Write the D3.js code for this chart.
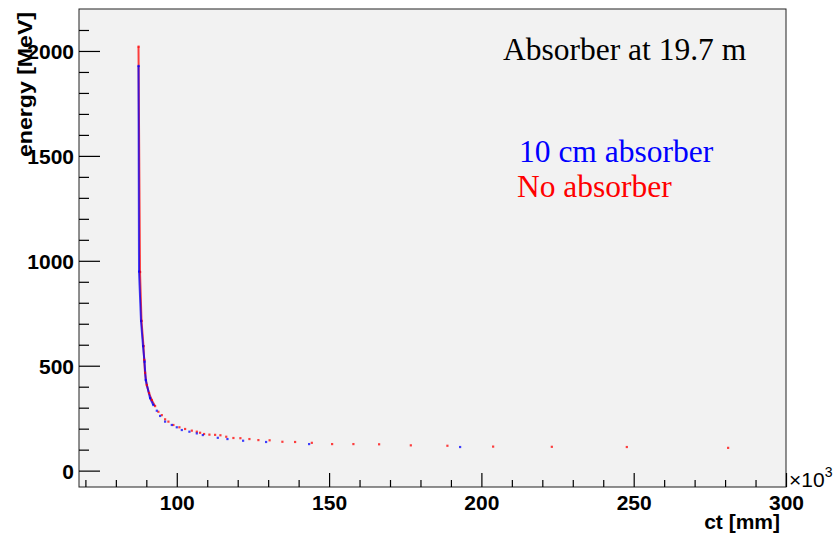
<!DOCTYPE html>
<html>
<head>
<meta charset="utf-8">
<script src="https://cdn.jsdelivr.net/npm/d3@7"></script>
<style>
  body { margin: 0; background: #fff; }
  svg { display: block; }
  .tick text { font-family: "Liberation Sans", Arial, sans-serif; font-weight: bold; font-size: 21px; fill: #000; }
</style>
</head>
<body>
<svg width="838" height="537"></svg>
<script>
// No absorber (red) : ct [x10^3 mm], energy [MeV]
const ctRed = [87.43, 87.93, 88.42, 89.07, 89.30, 89.57, 90.13, 90.88, 91.77, 92.85, 93.93, 95.05,
  96.13, 97.22, 98.86, 100.83, 102.70, 104.90, 106.54, 107.62, 108.94, 110.68, 112.55, 114.29,
  116.20, 118.56, 120.85, 123.81, 126.76, 130.44, 134.64, 138.81, 144.30, 150.96, 157.95,
  166.39, 176.80, 188.81, 203.82, 223.09, 247.71, 280.97];
const eRed = [2021, 947, 714, 594, 528, 467, 408, 370, 337, 308, 281, 265,
  245, 234, 218, 207, 199, 191, 186, 181, 175, 172, 171, 169,
  162, 156, 155, 151, 146, 145, 138, 137, 133, 127, 127,
  126, 121, 119, 115, 114, 113, 109];

// 10 cm absorber (blue)
const ctBlue = [87.43, 87.60, 88.25, 88.91, 89.40, 89.80, 91.21, 92.29, 93.41, 94.49, 96.13,
  98.33, 99.97, 101.62, 104.11, 106.54, 108.51, 113.43, 116.60, 121.74, 129.29, 143.41, 192.98];
const eBlue = [1929, 949, 714, 594, 520, 432, 346, 313, 286, 261, 234,
  218, 207, 194, 186, 178, 170, 157, 151, 143, 137, 127, 113];

const xMajor = [100, 150, 200, 250, 300];
const xMinor = [70, 80, 90, 110, 120, 130, 140, 160, 170, 180, 190, 210, 220, 230, 240, 260, 270, 280, 290];
const yMajor = [0, 500, 1000, 1500, 2000];
const yMinor = [100, 200, 300, 400, 600, 700, 800, 900, 1100, 1200, 1300, 1400, 1600, 1700, 1800, 1900, 2100];

const svg = d3.select('svg');
const L = 79, R = 786, T = 9, B = 487;

const x = d3.scaleLinear().domain([67.9, 300]).range([L, R]);
const y = d3.scaleLinear().domain([-78, 2200]).range([B, T]);

// frame
svg.append('rect')
  .attr('x', L).attr('y', T).attr('width', R - L).attr('height', B - T)
  .attr('fill', '#f2f2f2').attr('stroke', '#222').attr('stroke-width', 1);

// axes
function styleAxis(g) {
  g.select('.domain').remove();
  g.selectAll('.tick line').attr('stroke', '#000').attr('stroke-width', 1.2);
}
svg.append('g').attr('transform', `translate(0,${B})`)
  .call(d3.axisBottom(x).tickValues(xMinor).tickSize(-7).tickFormat(''))
  .call(styleAxis);
svg.append('g').attr('transform', `translate(0,${B})`)
  .call(d3.axisBottom(x).tickValues(xMajor).tickSize(-14).tickPadding(8).tickFormat(d3.format('d')))
  .call(styleAxis);
svg.append('g').attr('transform', `translate(${L},0)`)
  .call(d3.axisLeft(y).tickValues(yMinor).tickSize(-10).tickFormat(''))
  .call(styleAxis);
svg.append('g').attr('transform', `translate(${L},0)`)
  .call(d3.axisLeft(y).tickValues(yMajor).tickSize(-21).tickPadding(5).tickFormat(d3.format('d')))
  .call(styleAxis)
  .selectAll('text').attr('dy', '0.37em');

// axis titles
svg.append('text')
  .attr('transform', 'translate(32,157) rotate(-90)')
  .attr('font-family', '"Liberation Sans", Arial, sans-serif')
  .attr('font-weight', 'bold').attr('font-size', 20)
  .attr('textLength', 145).attr('lengthAdjust', 'spacingAndGlyphs')
  .text('energy [MeV]');
svg.append('text')
  .attr('x', 780).attr('y', 529).attr('text-anchor', 'end')
  .attr('font-family', '"Liberation Sans", Arial, sans-serif')
  .attr('font-weight', 'bold').attr('font-size', 21)
  .text('ct [mm]');
const exp = svg.append('text')
  .attr('x', 789).attr('y', 487)
  .attr('font-family', '"Liberation Sans", Arial, sans-serif')
  .attr('font-size', 21);
exp.append('tspan').text('\u00d710');
exp.append('tspan').attr('font-size', 14).attr('dy', -10).text('3');

// series
const series = [
  { ct: ctRed, e: eRed, color: '#ff0000' },
  { ct: ctBlue, e: eBlue, color: '#0000ff' }
];
const line = d3.line().x(d => x(d[0])).y(d => y(d[1]));
series.forEach(s => {
  const pts = s.ct.map((c, i) => [c, s.e[i]]).filter(d => d[1] >= 300);
  svg.append('path').attr('d', line(pts))
    .attr('fill', 'none').attr('stroke', s.color).attr('stroke-width', 2).attr('opacity', 0.75);
});
series.forEach(s => {
  svg.append('g').selectAll('rect')
    .data(s.ct.map((c, i) => [c, s.e[i]]))
    .join('rect')
    .attr('x', d => x(d[0]) - 1).attr('y', d => y(d[1]) - 1)
    .attr('width', 2.2).attr('height', 2.2)
    .attr('fill', s.color).attr('opacity', 0.75);
});

// annotations
const serif = '"Liberation Serif", "Times New Roman", serif';
svg.append('text').attr('x', 503).attr('y', 60)
  .attr('font-family', serif).attr('font-size', 31.5).attr('fill', '#000')
  .text('Absorber at 19.7 m');
svg.append('text').attr('x', 519).attr('y', 162)
  .attr('font-family', serif).attr('font-size', 31.5).attr('fill', '#0000ff')
  .text('10 cm absorber');
svg.append('text').attr('x', 517).attr('y', 197)
  .attr('font-family', serif).attr('font-size', 31.5).attr('fill', '#ff0000')
  .text('No absorber');
</script>
</body>
</html>
